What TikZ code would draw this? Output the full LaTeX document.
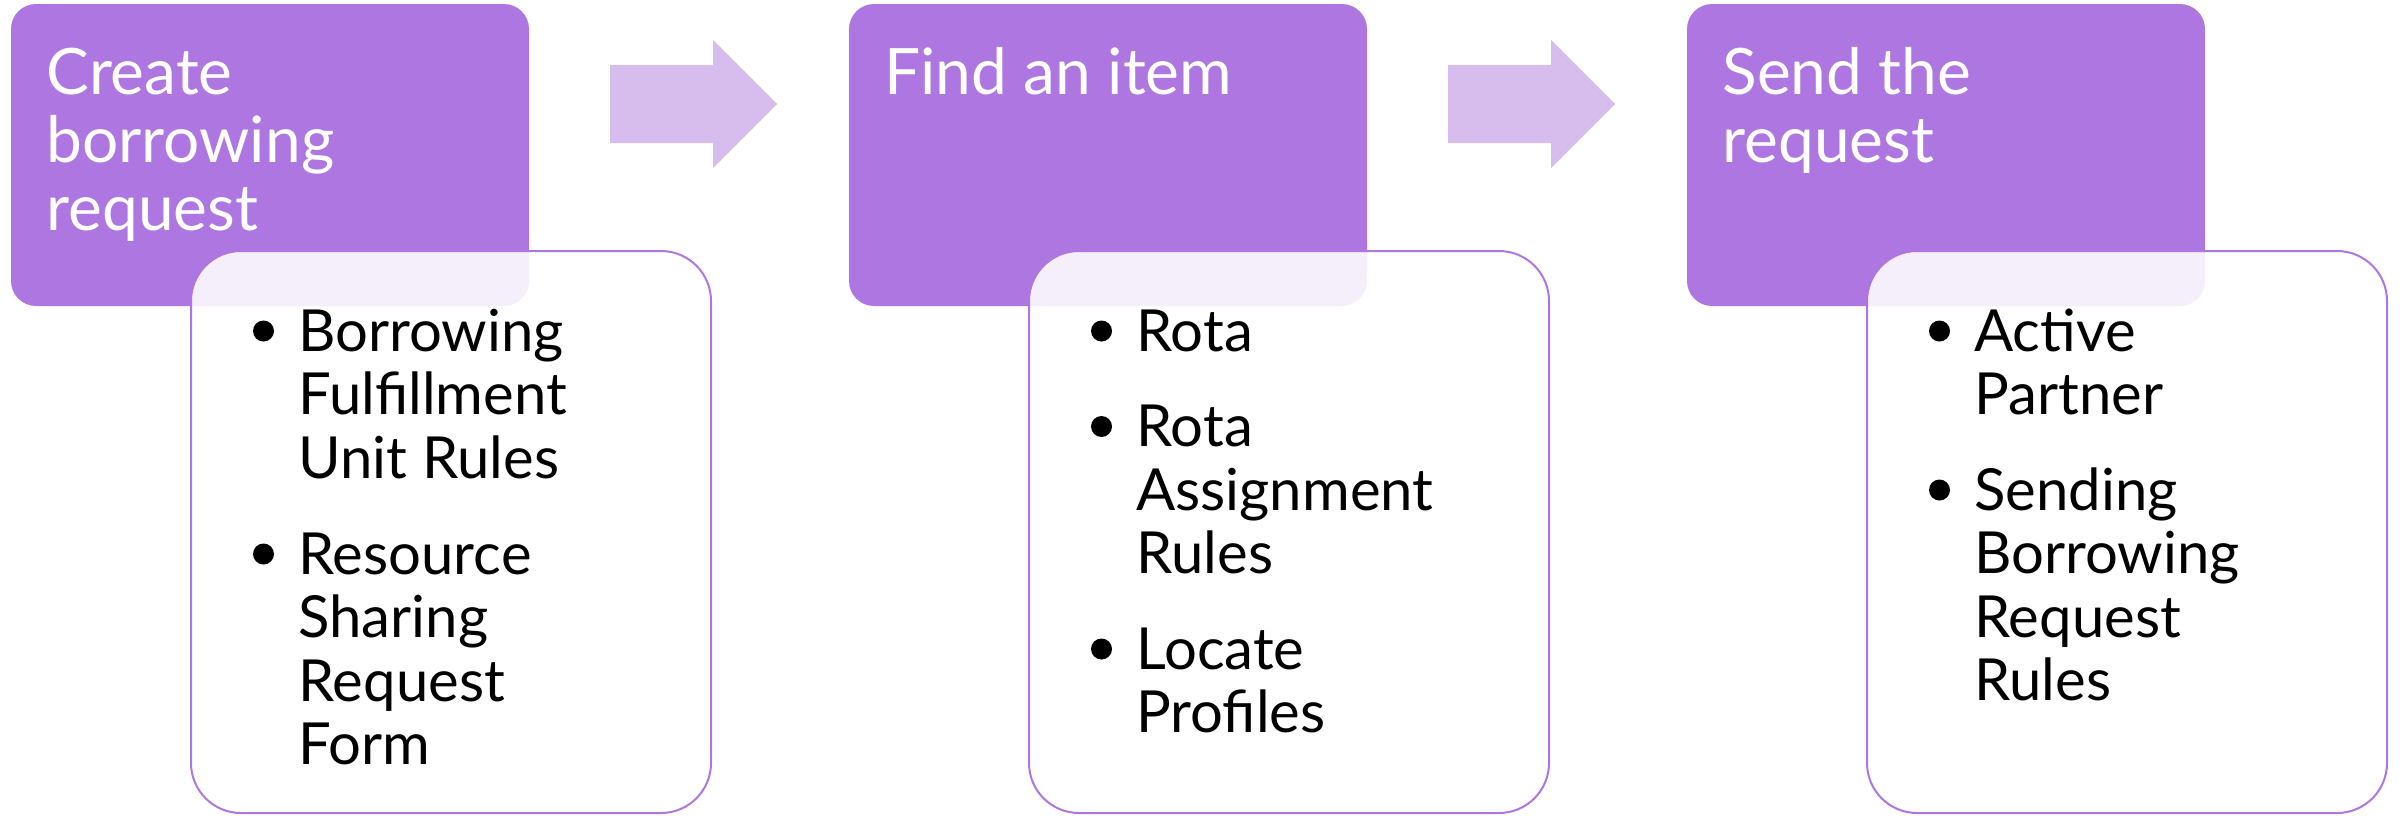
\documentclass[tikz,border=0pt]{standalone}
\usepackage{fontspec}
\setmainfont{Lato}
\definecolor{boxpurple}{RGB}{174,118,224}
\definecolor{arrowpurple}{RGB}{214,189,237}
\newcommand{\mylines}[1]{\begin{tabular}[t]{@{}l@{}}#1\end{tabular}}
\begin{document}
\begin{tikzpicture}[x=0.5pt,y=-0.5pt,
  titlebox/.style={fill=boxpurple, rounded corners=12.5pt},
  listbox/.style={draw=boxpurple, line width=1pt, fill=white, fill opacity=0.88, rounded corners=25pt},
  titletext/.style={anchor=base west, inner sep=0pt, text=white, font=\fontsize{32}{34}\selectfont},
  itemtext/.style={anchor=base west, inner sep=0pt, text=black, font=\fontsize{29}{31.75}\selectfont},
  bulletdot/.style={circle, fill=black, inner sep=0pt, minimum size=10.5pt},
  steparrow/.style={fill=arrowpurple}
]
\useasboundingbox (0,0) rectangle (2403,815);
% column 1
\path[titlebox] (11,4) rectangle (529,306);
\path[listbox] (191,251) rectangle (711,813);
\node[titletext] (t1) at (46,94.6) {\mylines{Create\\borrowing\\request}};
\node[bulletdot] (b11) at (263.5,331) {};
\node[itemtext] (i11) at (298,351) {\mylines{Borrowing\\Fulfillment\\Unit Rules}};
\node[bulletdot] (b12) at (263.5,554) {};
\node[itemtext] (i12) at (298,574) {\mylines{Resource\\Sharing\\Request\\Form}};
% arrow 1
\path[steparrow] (610,65) -- (713,65) -- (713,40) -- (777,104) -- (713,168) -- (713,143) -- (610,143) -- cycle;
% column 2
\path[titlebox] (849,4) rectangle (1367,306);
\path[listbox] (1029,251) rectangle (1549,813);
\node[titletext] (t2) at (884,94.6) {\mylines{Find an item}};
\node[bulletdot] (b21) at (1101.5,331) {};
\node[itemtext] (i21) at (1136,351) {\mylines{Rota}};
\node[bulletdot] (b22) at (1101.5,426.5) {};
\node[itemtext] (i22) at (1136,446.5) {\mylines{Rota\\Assignment\\Rules}};
\node[bulletdot] (b23) at (1101.5,649) {};
\node[itemtext] (i23) at (1136,669) {\mylines{Locate\\Profiles}};
% arrow 2
\path[steparrow] (1448,65) -- (1551,65) -- (1551,40) -- (1615,104) -- (1551,168) -- (1551,143) -- (1448,143) -- cycle;
% column 3
\path[titlebox] (1687,4) rectangle (2205,306);
\path[listbox] (1867,251) rectangle (2387,813);
\node[titletext] (t3) at (1722,94.6) {\mylines{Send the\\request}};
\node[bulletdot] (b31) at (1939.5,331) {};
\node[itemtext] (i31) at (1974,351) {\mylines{Active\\Partner}};
\node[bulletdot] (b32) at (1939.5,490) {};
\node[itemtext] (i32) at (1974,510) {\mylines{Sending\\Borrowing\\Request\\Rules}};
\end{tikzpicture}
\end{document}
